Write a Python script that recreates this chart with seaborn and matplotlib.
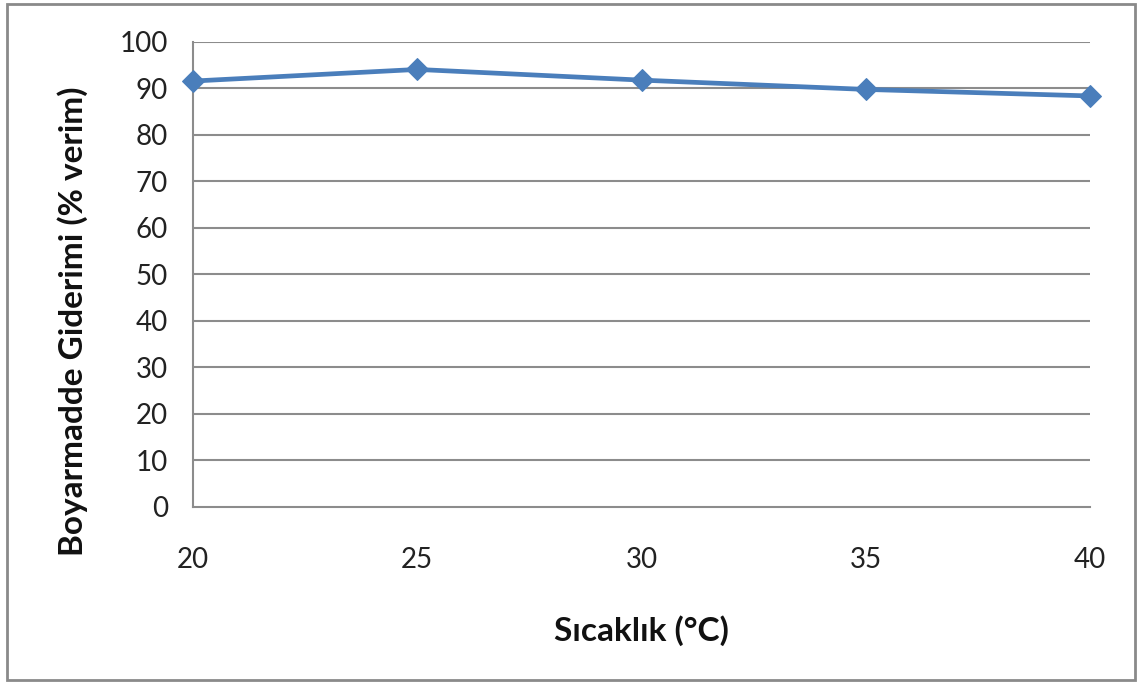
import matplotlib
matplotlib.use("Agg")
import matplotlib.pyplot as plt
from matplotlib.patches import Rectangle
import seaborn as sns
import pandas as pd

# Temperature (°C) vs dye removal efficiency (%)
temperature = [20, 25, 30, 35, 40]
removal = [91.6, 94.1, 91.8, 89.8, 88.4]
y_ticks = [0, 10, 20, 30, 40, 50, 60, 70, 80, 90, 100]
x_ticks = [20, 25, 30, 35, 40]

sns.set_theme(style="white")
plt.rcParams["font.family"] = ["Lato", "DejaVu Sans"]

df = pd.DataFrame({"Sıcaklık": temperature, "Verim": removal})

fig = plt.figure(figsize=(11.42, 6.84), dpi=100)
ax = fig.add_axes([0.169, 0.2588, 0.7855, 0.6798])

grid_color = "#8c8c8c"
for yv in y_ticks[1:]:
    ax.axhline(yv, color=grid_color, lw=1.5, zorder=1)

sns.lineplot(data=df, x="Sıcaklık", y="Verim", ax=ax, color="#4A7EBB",
             lw=3.4, marker="D", markersize=11, markeredgecolor="#4A7EBB",
             zorder=3, clip_on=False)

ax.set_xlim(20, 40)
ax.set_ylim(0, 100)
ax.set_xticks(x_ticks)
ax.set_yticks(y_ticks)

for side in ("top", "right"):
    ax.spines[side].set_visible(False)
for side in ("left", "bottom"):
    ax.spines[side].set_color(grid_color)
    ax.spines[side].set_linewidth(1.5)

ax.tick_params(axis="both", which="major", length=9, width=1.2,
               color=grid_color, labelsize=20, labelcolor="#222222")
ax.tick_params(axis="x", pad=20)
ax.tick_params(axis="y", pad=9)

ax.set_xlabel("Sıcaklık (°C)", fontsize=24, fontweight="bold",
              color="#111111", labelpad=30)
ax.set_ylabel("Boyarmadde Giderimi (% verim)", fontsize=24,
              fontweight="bold", color="#111111")
ax.yaxis.set_label_coords(-0.117, 0.40)

# outer chart border
fig.patches.append(Rectangle((0.006, 0.006), 0.988, 0.988,
                             transform=fig.transFigure, fill=False,
                             edgecolor="#8a8a8a", lw=2.0))

fig.savefig("out.png", dpi=100, facecolor="white")
